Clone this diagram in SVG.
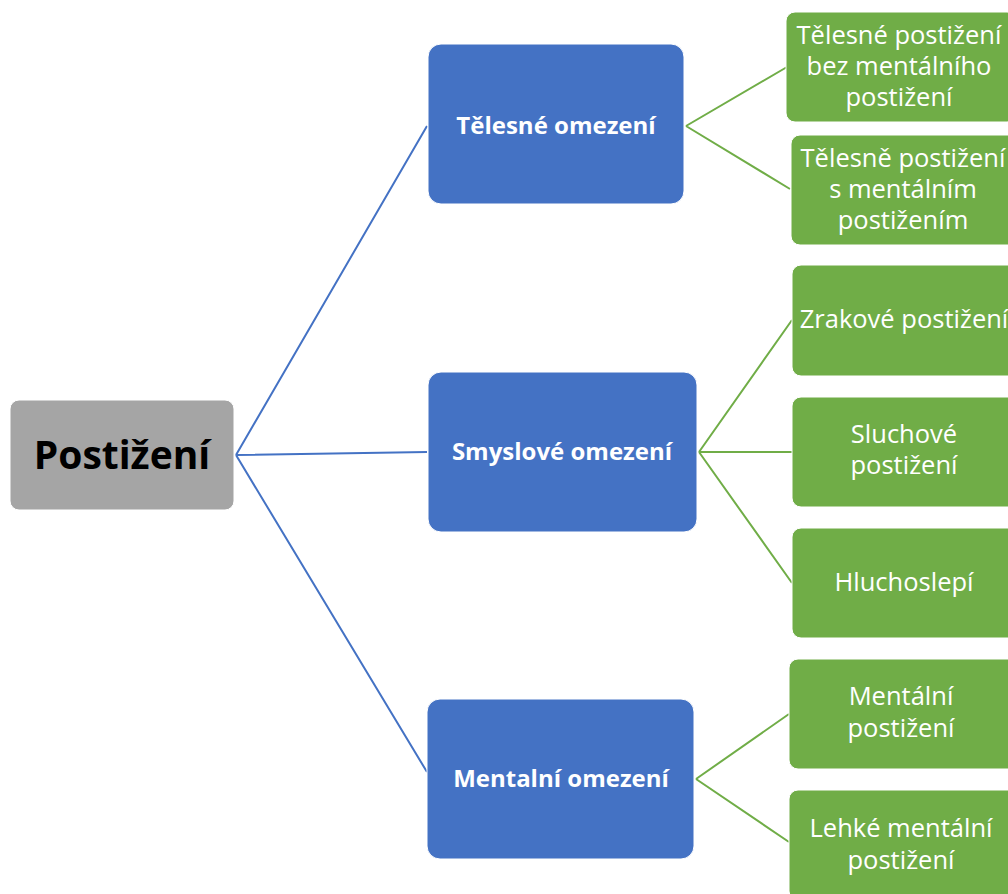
<svg xmlns="http://www.w3.org/2000/svg" width="1008" height="894" viewBox="0 0 1008 894">
<style>
.root{fill:#a5a5a5;stroke:#ffffff;stroke-width:1}
.blue{fill:#4472c4;stroke:#ffffff;stroke-width:1}
.green{fill:#70ad47;stroke:#ffffff;stroke-width:1}
.t{font-family:"Open Sans","Noto Sans","Liberation Sans",sans-serif;text-anchor:middle}
.tr{font-size:39px;font-weight:bold;fill:#000}
.tb{font-size:24px;font-weight:bold;fill:#fff}
.tg{font-size:25.5px;fill:#fff}
.cb{stroke:#4472c4;stroke-width:2;fill:none}
.cg{stroke:#70ad47;stroke-width:2;fill:none}
</style>
<rect width="1008" height="894" fill="#ffffff"/>
<g id="connectors">
<path class="cb" d="M236,455 L427,126 M236,455 L427,452 M236,455 L427,772"/>
<path class="cg" d="M686,126 L787,67 M686,126 L790,189"/>
<path class="cg" d="M699,452 L792,320 M699,452 L792,452 M699,452 L792,583"/>
<path class="cg" d="M696,779 L789,714 M696,779 L789,842"/>
</g>
<g id="n-root"><rect class="root" x="10" y="400" width="224" height="110" rx="9"/><text class="t tr" x="122" y="469">Postižení</text></g>
<g id="n-telesne"><rect class="blue" x="428" y="44" width="256" height="160" rx="13"/><text class="t tb" x="556" y="134">Tělesné omezení</text></g>
<g id="n-smyslove"><rect class="blue" x="428" y="372" width="269" height="160" rx="13"/><text class="t tb" x="562" y="460">Smyslové omezení</text></g>
<g id="n-mentalni"><rect class="blue" x="427" y="699" width="267" height="160" rx="13"/><text class="t tb" x="561" y="787">Mentalní omezení</text></g>
<g id="n-tel1"><rect class="green" x="786" y="12" width="230" height="110" rx="9"/><text class="t tg" x="899"><tspan x="899" y="44">Tělesné postižení</tspan><tspan x="899" y="75">bez mentálního</tspan><tspan x="899" y="106">postižení</tspan></text></g>
<g id="n-tel2"><rect class="green" x="791" y="135" width="230" height="110" rx="9"/><text class="t tg" x="903"><tspan x="903" y="167">Tělesně postižení</tspan><tspan x="903" y="198">s mentálním</tspan><tspan x="903" y="229">postižením</tspan></text></g>
<g id="n-zrak"><rect class="green" x="792" y="265" width="230" height="111" rx="9"/><text class="t tg" x="904" y="328">Zrakové postižení</text></g>
<g id="n-sluch"><rect class="green" x="792" y="397" width="230" height="110" rx="9"/><text class="t tg" x="904"><tspan x="904" y="443">Sluchové</tspan><tspan x="904" y="474">postižení</tspan></text></g>
<g id="n-hlucho"><rect class="green" x="792" y="528" width="230" height="110" rx="9"/><text class="t tg" x="904" y="591">Hluchoslepí</text></g>
<g id="n-ment"><rect class="green" x="789" y="659" width="230" height="110" rx="9"/><text class="t tg" x="901"><tspan x="901" y="705">Mentální</tspan><tspan x="901" y="737">postižení</tspan></text></g>
<g id="n-lehke"><rect class="green" x="789" y="790" width="230" height="110" rx="9"/><text class="t tg" x="901"><tspan x="901" y="837">Lehké mentální</tspan><tspan x="901" y="869">postižení</tspan></text></g>
</svg>
